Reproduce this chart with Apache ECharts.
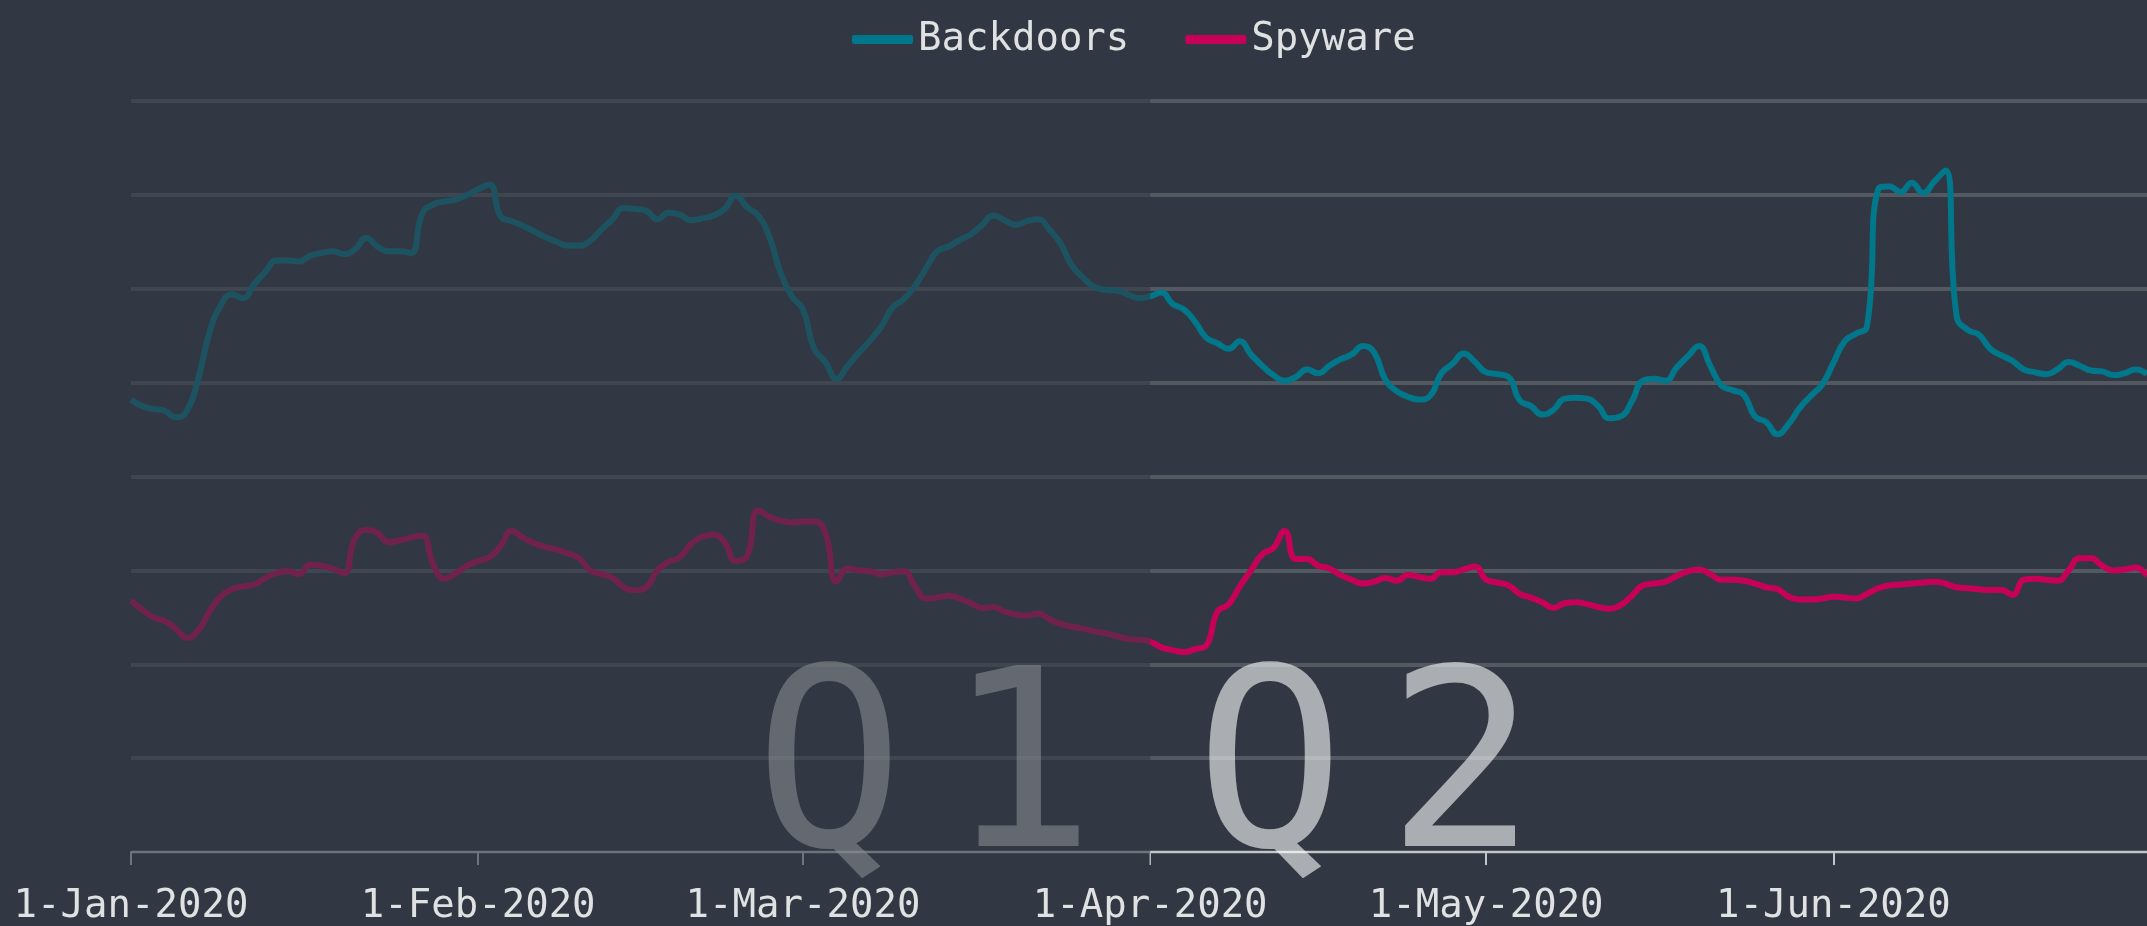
<!DOCTYPE html>
<html>
<head>
<meta charset="utf-8">
<script src="https://cdn.jsdelivr.net/npm/echarts@6/dist/echarts.min.js"></script>
<style>
  html, body { margin: 0; padding: 0; background: #323843; }
  #threats { width: 2147px; height: 926px; }
</style>
</head>
<body>
<div id="threats"></div>
<script>
  // daily values, 1-Jan-2020 .. 29-Jun-2020
  const startDate = [2020, 0, 1];
  const monthNames = ['Jan', 'Feb', 'Mar', 'Apr', 'May', 'Jun', 'Jul', 'Aug', 'Sep', 'Oct', 'Nov', 'Dec'];
  const seriesNames = ['Backdoors', 'Spyware'];
  const quarterLabels = ['Q1', 'Q2'];
  const quarterSplit = [2020, 3, 1];

  const backdoors = [
    48.2, 47.5, 47.2, 47.0, 46.3, 47.0, 50.4, 55.3, 58.2, 59.4,
    59.0, 60.5, 61.8, 63.0, 63.0, 62.9, 63.5, 63.8, 64.0, 63.7,
    64.2, 65.4, 64.5, 64.0, 64.0, 63.8, 68.0, 69.0, 69.3, 69.5,
    70.0, 70.6, 71.1, 67.7, 67.2, 66.7, 66.1, 65.5, 65.0, 64.6,
    64.6, 65.1, 66.3, 67.4, 68.6, 68.5, 68.3, 67.4, 68.1, 67.9,
    67.3, 67.5, 67.8, 68.5, 69.9, 68.7, 67.8, 65.5, 61.7, 59.2,
    57.8, 53.6, 52.2, 50.4, 51.8, 53.2, 54.5, 56.0, 58.0, 58.9,
    60.3, 62.2, 64.0, 64.5, 65.2, 65.8, 66.8, 67.8, 67.3, 66.8,
    67.2, 67.4, 66.3, 64.8, 62.5, 61.2, 60.2, 59.9, 59.8, 59.4,
    59.0, 59.2, 59.6, 58.4, 57.8, 56.5, 54.8, 54.2, 53.6, 54.4,
    53.0, 51.8, 50.8, 50.2, 50.6, 51.4, 51.0, 51.8, 52.5, 53.0,
    53.9, 53.2, 50.3, 49.1, 48.5, 48.2, 48.6, 51.0, 52.0, 53.1,
    52.2, 51.1, 50.9, 50.6, 48.1, 47.5, 46.6, 47.1, 48.3, 48.4,
    48.3, 47.5, 46.2, 46.4, 48.0, 50.2, 50.4, 50.2, 51.6, 52.8,
    53.9, 51.8, 49.7, 49.2, 48.7, 46.4, 45.8, 44.5, 45.6, 47.3,
    48.6, 49.8, 52.1, 54.4, 55.2, 56.0, 70.6, 70.9, 70.3, 71.3,
    70.2, 71.4, 72.6, 57.1, 55.6, 55.1, 53.6, 52.9, 52.3, 51.4,
    51.1, 50.9, 51.4, 52.2, 51.8, 51.3, 51.2, 50.8, 51.0, 51.4,
    50.9
  ];

  const spyware = [
    26.8, 25.8, 25.0, 24.6, 23.8, 22.8, 23.6, 25.6, 27.2, 28.0,
    28.3, 28.5, 29.2, 29.7, 29.9, 29.6, 30.6, 30.5, 30.2, 29.7,
    33.4, 34.3, 34.0, 33.0, 33.2, 33.5, 33.7, 30.6, 29.1, 29.7,
    30.5, 31.0, 31.4, 32.6, 34.2, 33.5, 32.9, 32.5, 32.2, 31.8,
    31.3, 30.0, 29.6, 29.2, 28.2, 27.9, 28.2, 30.0, 30.9, 31.4,
    32.8, 33.6, 33.8, 33.0, 31.0, 31.5, 36.4, 35.7, 35.3, 35.1,
    35.2, 35.2, 34.0, 28.8, 30.2, 30.0, 29.9, 29.6, 29.8, 29.9,
    28.3, 27.0, 27.1, 27.3, 27.0, 26.5, 26.0, 26.1, 25.6, 25.3,
    25.2, 25.4, 24.8, 24.3, 24.0, 23.8, 23.5, 23.3, 23.0, 22.7,
    22.6, 22.4, 21.8, 21.5, 21.3, 21.6, 22.0, 25.6, 26.4, 28.3,
    30.0, 31.7, 32.4, 34.2, 31.2, 31.2, 30.5, 30.2, 29.5, 29.0,
    28.6, 28.8, 29.2, 28.9, 29.5, 29.3, 29.1, 29.8, 29.8, 30.1,
    30.4, 29.0, 28.7, 28.4, 27.5, 27.1, 26.6, 26.0, 26.5, 26.6,
    26.4, 26.1, 25.9, 26.3, 27.3, 28.4, 28.6, 28.8, 29.4, 29.9,
    30.1, 29.6, 29.0, 29.0, 28.9, 28.6, 28.2, 28.0, 27.2, 26.9,
    26.9, 27.0, 27.2, 27.1, 27.0, 27.5, 28.1, 28.4, 28.5, 28.6,
    28.7, 28.8, 28.6, 28.2, 28.1, 28.0, 27.9, 27.9, 27.4, 29.0,
    29.1, 29.0, 28.9, 30.0, 31.3, 31.3, 30.5, 30.0, 30.1, 30.3,
    29.4
  ];

  const dates = [];
  for (let i = 0; i < backdoors.length; i++) {
    dates.push(new Date(startDate[0], startDate[1], startDate[2] + i).getTime());
  }

  const fontName = 'DejaVu Sans Mono';
  const textColor = '#dfe1e2';
  const DAY = 24 * 3600 * 1000;

  let myChart = echarts.init(document.getElementById('threats'));
  myChart.setOption({
    backgroundColor: '#323843',
    animation: false,
    textStyle: { fontFamily: fontName },
    legend: {
      data: seriesNames,
      top: 15,
      left: 847,
      icon: 'roundRect',
      itemWidth: 61,
      itemHeight: 9,
      itemGap: 56,
      textStyle: { color: textColor, fontSize: 39, fontFamily: fontName }
    },
    grid: { left: 131, right: 0, top: 101, bottom: 72 },
    xAxis: {
      type: 'time',
      min: dates[0],
      max: dates[dates.length - 1],
      splitNumber: 6,
      minInterval: 28 * DAY,
      maxInterval: 31 * DAY,
      axisLine: { lineStyle: { color: '#c4c7ca', width: 2 } },
      axisTick: { show: true, length: 13, lineStyle: { color: '#c4c7ca', width: 2 } },
      splitLine: { show: false },
      axisLabel: {
        color: textColor,
        fontSize: 39,
        fontFamily: fontName,
        margin: 35,
        formatter: function (val) {
          let d = new Date(val);
          return d.getDate() + '-' + monthNames[d.getMonth()] + '-' + d.getFullYear();
        }
      }
    },
    yAxis: {
      type: 'value',
      min: 0,
      max: 80,
      interval: 10,
      axisLine: { show: false },
      axisTick: { show: false },
      axisLabel: { show: false },
      splitLine: { lineStyle: { color: '#525960', width: 4 } }
    },
    series: [{
      name: seriesNames[0],
      type: 'line',
      smooth: 0.5,
      symbol: 'none',
      z: 3,
      itemStyle: { color: '#00778a' },
      lineStyle: { color: '#00778a', width: 6 },
      data: dates.map((t, i) => [t, backdoors[i]])
    }, {
      name: seriesNames[1],
      type: 'line',
      smooth: 0.5,
      symbol: 'none',
      z: 3,
      itemStyle: { color: '#c70058' },
      lineStyle: { color: '#c70058', width: 6 },
      data: dates.map((t, i) => [t, spyware[i]])
    }]
  });

  // quarter labels and the dimmed Q1 overlay, placed through the axes
  let splitX = myChart.convertToPixel({ xAxisIndex: 0 }, new Date(quarterSplit[0], quarterSplit[1], quarterSplit[2]).getTime());
  let baseY = myChart.convertToPixel({ yAxisIndex: 0 }, 0);
  let topY = myChart.convertToPixel({ yAxisIndex: 0 }, 80);

  function quarterText(label) {
    return '{q|' + label[0] + '}{g| }{q|' + label[1] + '}';
  }
  const quarterRich = {
    q: { fontSize: 248, fontFamily: fontName, fill: 'rgba(255,255,255,0.59)', color: 'rgba(255,255,255,0.59)' },
    g: { fontSize: 70, fontFamily: fontName }
  };

  myChart.setOption({
    graphic: [{
      type: 'text',
      z: 1,
      x: splitX - 55,
      y: baseY - 70,
      style: {
        text: quarterText(quarterLabels[0]),
        align: 'right',
        verticalAlign: 'middle',
        rich: quarterRich
      }
    }, {
      type: 'text',
      z: 1,
      x: splitX + 45,
      y: baseY - 70,
      style: {
        text: quarterText(quarterLabels[1]),
        align: 'left',
        verticalAlign: 'middle',
        rich: quarterRich
      }
    }, {
      type: 'rect',
      z: 100,
      silent: true,
      shape: { x: 0, y: topY - 25, width: splitX, height: baseY + 30 - (topY - 25) },
      style: { fill: 'rgba(50,56,67,0.58)' }
    }]
  });
</script>
</body>
</html>
